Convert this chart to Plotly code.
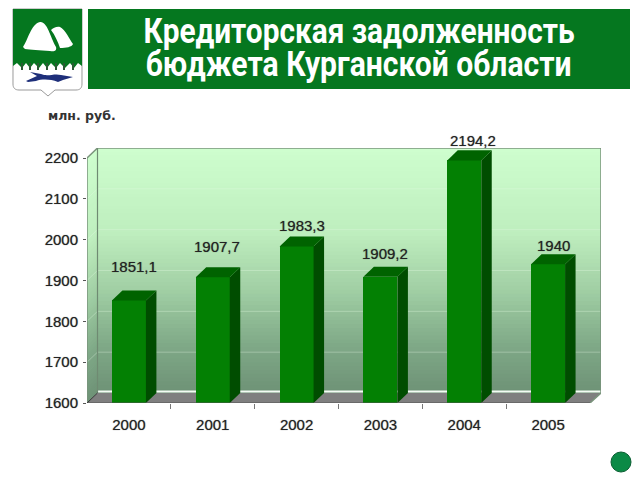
import plotly.graph_objects as go

# ---- data ----
years = ["2000", "2001", "2002", "2003", "2004", "2005"]
values = [1851.1, 1907.7, 1983.3, 1909.2, 2194.2, 1940.0]
value_labels = ["1851,1", "1907,7", "1983,3", "1909,2", "2194,2", "1940"]
y_ticks = [1600, 1700, 1800, 1900, 2000, 2100, 2200]
title_lines = ["Кредиторская задолженность", "бюджета Курганской области"]
unit_label = "млн. руб."

# ---- layout constants (pixels in the 640x480 page) ----
W, H = 640, 480
PX_L, PX_R, PX_B, PX_T = 87, 601, 403, 148
CAT_PX = 83.83
Y_PX = 0.408
DX = 10.5 / CAT_PX
DY = 10 / Y_PX
BAR_W = 34 / CAT_PX
Y0 = y_ticks[0]
YTOP = y_ticks[-1] + DY
XL = -0.5
XR = XL + (PX_R - PX_L) / CAT_PX
XF = XL + 6  # front right end of category range
lift = [34, 31, 21, 23, 20, 19]
shift = [5, 4, 5, 5, 9, 5]
SOFT = "0 0 1px rgba(0,0,0,0.55)"


def px(x, y):
    return x / W, 1 - y / H


def path_px(points, close=True):
    s = ""
    for i, (x, y) in enumerate(points):
        a, b = px(x, y)
        s += ("M" if i == 0 else "L") + f"{a:.5f},{b:.5f} "
    return s + ("Z" if close else "")


def curve_px(cmds):
    s = ""
    for c in cmds:
        if c[0] == "Z":
            s += "Z "
        else:
            s += c[0] + " ".join("{:.5f},{:.5f}".format(*px(c[i], c[i + 1])) for i in range(1, len(c), 2)) + " "
    return s


def lerp_color(t):
    stops = [(0.0, (206, 254, 206)), (0.35, (190, 238, 190)), (0.6, (158, 204, 162)),
             (0.8, (128, 170, 136)), (1.0, (110, 146, 118))]
    for (a, ca), (b, cb) in zip(stops, stops[1:]):
        if t <= b:
            f = (t - a) / (b - a)
            return "rgb({},{},{})".format(*[round(p + (q - p) * f) for p, q in zip(ca, cb)])
    return "rgb(110,146,118)"


shapes = []


def data_poly(points, fill, line=None, width=0, layer="below"):
    s = ""
    for i, (x, y) in enumerate(points):
        s += ("M" if i == 0 else "L") + f"{x:.4f},{y:.3f} "
    shapes.append(dict(type="path", path=s + "Z", xref="x", yref="y", fillcolor=fill,
                       line=dict(color=line or fill, width=width), layer=layer))


def page_path(path, fill, line="rgba(0,0,0,0)", width=0):
    shapes.append(dict(type="path", path=path, xref="paper", yref="paper", fillcolor=fill,
                       line=dict(color=line, width=width), layer="above"))


# walls: strips giving the vertical gradient
N = 64
span = y_ticks[-1] - Y0
for i in range(N):
    t0 = i / N
    t1 = (i + 1) / N + 0.004
    v_hi = y_ticks[-1] - span * t0
    v_lo = y_ticks[-1] - span * min(t1, 1)
    c = lerp_color((t0 + t1) / 2)
    data_poly([(XL + DX, v_lo + DY), (XR, v_lo + DY), (XR, v_hi + DY), (XL + DX, v_hi + DY)], c)
    data_poly([(XL, v_lo), (XL + DX, v_lo + DY), (XL + DX, v_hi + DY), (XL, v_hi)], c)

# gridlines on the walls
for v in y_ticks[1:-1]:
    shapes.append(dict(type="path", path=f"M{XL},{v} L{XL + DX},{v + DY} L{XR},{v + DY}", xref="x", yref="y",
                       line=dict(color="rgba(225,250,225,0.35)", width=1), layer="below"))

# floor and its white back edge
data_poly([(XL, Y0), (XL + DX, Y0 + DY), (XR, Y0 + DY), (XF, Y0)], "#7f7f7f")
shapes.append(dict(type="line", x0=XL + DX, x1=XR, y0=Y0 + DY + 1.5 / Y_PX, y1=Y0 + DY + 1.5 / Y_PX, xref="x", yref="y",
                   line=dict(color="#f4fbf4", width=2), layer="below"))
# wall frame
shapes.append(dict(type="path", xref="x", yref="y", layer="below",
                   path=f"M{XL},{Y0} L{XL},{y_ticks[-1]} L{XL + DX},{YTOP} L{XR},{YTOP} L{XR},{Y0 + DY} L{XF},{Y0}",
                   line=dict(color="#7a947c", width=1.5)))
shapes.append(dict(type="line", xref="x", yref="y", layer="below", x0=XL + DX, x1=XL + DX, y0=Y0 + DY, y1=YTOP,
                   line=dict(color="#6f8a72", width=1.2)))
shapes.append(dict(type="path", xref="x", yref="y", layer="below",
                   path=f"M{XL},{Y0} L{XL + DX},{Y0 + DY}", line=dict(color="#333333", width=1)))
shapes.append(dict(type="line", xref="x", yref="y", layer="above", x0=XL - 0.01, x1=XF, y0=Y0, y1=Y0,
                   line=dict(color="#555555", width=1)))

# ---- banner ----
page_path(path_px([(88, 9), (630, 9), (630, 89), (88, 89)]), "#05771f")

# ---- coat of arms ----
shield = [("M", 13, 9), ("L", 82, 9), ("L", 82, 84), ("C", 82, 88, 80, 90, 76, 90), ("L", 55, 90), ("L", 48, 96),
          ("L", 41, 90), ("L", 19, 90), ("C", 15, 90, 13, 88, 13, 84), ("Z",)]
page_path(curve_px(shield), "#ffffff", "#9a9a9a", 1)
page_path(path_px([(13, 9), (82, 9), (82, 66), (78, 63), (74, 68), (70, 63), (65, 68), (60, 63), (56, 68), (51, 63),
                   (47, 68), (43, 63), (39, 68), (34, 63), (30, 68), (26, 63), (22, 68), (17, 63), (13, 66)]), "#05771f")
for tx in [22, 30, 38, 47, 56, 64, 73]:
    page_path(path_px([(tx - 1, 63), (tx + 1, 63), (tx + 1, 70), (tx - 1, 70)]), "#2b5a34")
page_path(curve_px([("M", 23, 47), ("C", 28, 40, 31, 24, 40, 22), ("C", 47, 21, 50, 36, 56, 47),
                    ("C", 57, 51, 54, 52, 50, 51), ("C", 40, 50, 30, 50, 25, 49), ("Z",)]), "#ffffff")
page_path(curve_px([("M", 51, 30), ("C", 53, 28, 57, 26, 60, 27), ("C", 65, 29, 70, 40, 73, 44),
                    ("C", 72, 47, 66, 48, 60, 48), ("C", 58, 42, 55, 35, 51, 30), ("Z",)]), "#ffffff")
page_path(curve_px([("M", 26, 81), ("L", 37, 76), ("L", 30, 72), ("L", 41, 74), ("C", 48, 77, 54, 73, 61, 75),
                    ("L", 73, 77), ("L", 63, 80), ("L", 58, 82), ("C", 50, 79, 42, 79, 36, 81), ("L", 28, 82), ("Z",)]),
          "#1e2f7a")

# ---- round button ----
bx0, by0 = px(611, 452)
bx1, by1 = px(631, 472)
shapes.append(dict(type="circle", xref="paper", yref="paper", x0=bx0, x1=bx1, y0=by0, y1=by1,
                   fillcolor="#0b8a46", line=dict(color="#0b5f33", width=1), layer="above"))

fig = go.Figure()
xs = list(range(len(years)))

# side and top faces of bars, computed from the values
for i, v in zip(xs, values):
    r = i + BAR_W / 2
    l = i - BAR_W / 2
    fig.add_trace(go.Scatter(x=[r, r + DX, r + DX, r, r], y=[Y0, Y0 + DY, v + DY, v, Y0], mode="lines",
                             fill="toself", fillcolor="#004d00", line=dict(width=0, color="#004d00"),
                             hoverinfo="skip", showlegend=False))
    fig.add_trace(go.Scatter(x=[l, r, r + DX, l + DX, l], y=[v, v, v + DY, v + DY, v], mode="lines",
                             fill="toself", fillcolor="#006300", line=dict(width=0, color="#006300"),
                             hoverinfo="skip", showlegend=False))

fig.add_trace(go.Bar(x=xs, y=[v - Y0 for v in values], base=Y0, width=BAR_W,
                     marker=dict(color="#038003", line=dict(width=0)), showlegend=False))

annotations = []
for i, (v, t) in enumerate(zip(values, value_labels)):
    annotations.append(dict(x=i, y=v, xref="x", yref="y", text=t, showarrow=False, xanchor="center", yanchor="middle",
                            xshift=shift[i], yshift=lift[i],
                            font=dict(family="Liberation Sans", size=15, color="#222222", shadow=SOFT)))
for line, cy in zip(title_lines, [32, 65]):
    a, b = px(358.5, cy)
    annotations.append(dict(x=a, y=b, xref="paper", yref="paper", text=f"<b>{line}</b>", showarrow=False,
                            xanchor="center", yanchor="middle",
                            font=dict(family="Roboto", size=35, color="#ffffff")))
a, b = px(81.5, 115)
annotations.append(dict(x=a, y=b, xref="paper", yref="paper", text=f"<b>{unit_label}</b>", showarrow=False,
                        xanchor="center", yanchor="middle",
                        font=dict(family="DejaVu Sans", size=12.5, color="#333333")))

tick_font = dict(family="Liberation Sans", size=15, color="#222222", shadow=SOFT)
fig.update_layout(
    width=W, height=H, margin=dict(l=0, r=0, t=0, b=0, autoexpand=False), paper_bgcolor="#ffffff",
    plot_bgcolor="rgba(0,0,0,0)", shapes=shapes, annotations=annotations, showlegend=False, bargap=0,
    xaxis=dict(domain=[PX_L / W, PX_R / W], range=[XL, XR], tickmode="array", tickvals=xs, ticktext=years,
               automargin=False, showgrid=False, zeroline=False, showline=False, ticks="", ticklabelstandoff=11,
               minor=dict(tickmode="array", tickvals=[0.5, 1.5, 2.5, 3.5, 4.5], ticks="outside", ticklen=5,
                          tickcolor="#777777", showgrid=False),
               tickfont=tick_font),
    yaxis=dict(domain=[1 - PX_B / H, 1 - PX_T / H], range=[Y0, YTOP], tickmode="array", tickvals=y_ticks,
               automargin=False, showgrid=False, zeroline=False, showline=False, ticks="outside", ticklen=3,
               tickcolor="#555555", ticklabelstandoff=2, tickfont=tick_font),
)
# The condensed title face is not installed: narrow the real title text to the reference's width.
post = """
document.body.style.margin='0';document.body.style.overflow='hidden';
document.querySelectorAll('.annotation-text').forEach(function(t){
  var c=t.textContent;
  if(c.indexOf('Кредиторская')===0||c.indexOf('бюджета')===0){
    var w=c.indexOf('бюджета')===0?426:431;
    var k=w/t.getComputedTextLength();
    var cx=t.getBBox().x+t.getBBox().width/2;
    t.setAttribute('transform','translate('+cx+',0) scale('+k+',1) translate('+(-cx)+',0)');
  }
});
"""
fig.write_html("out.html", config=dict(displayModeBar=False), post_script=post)
